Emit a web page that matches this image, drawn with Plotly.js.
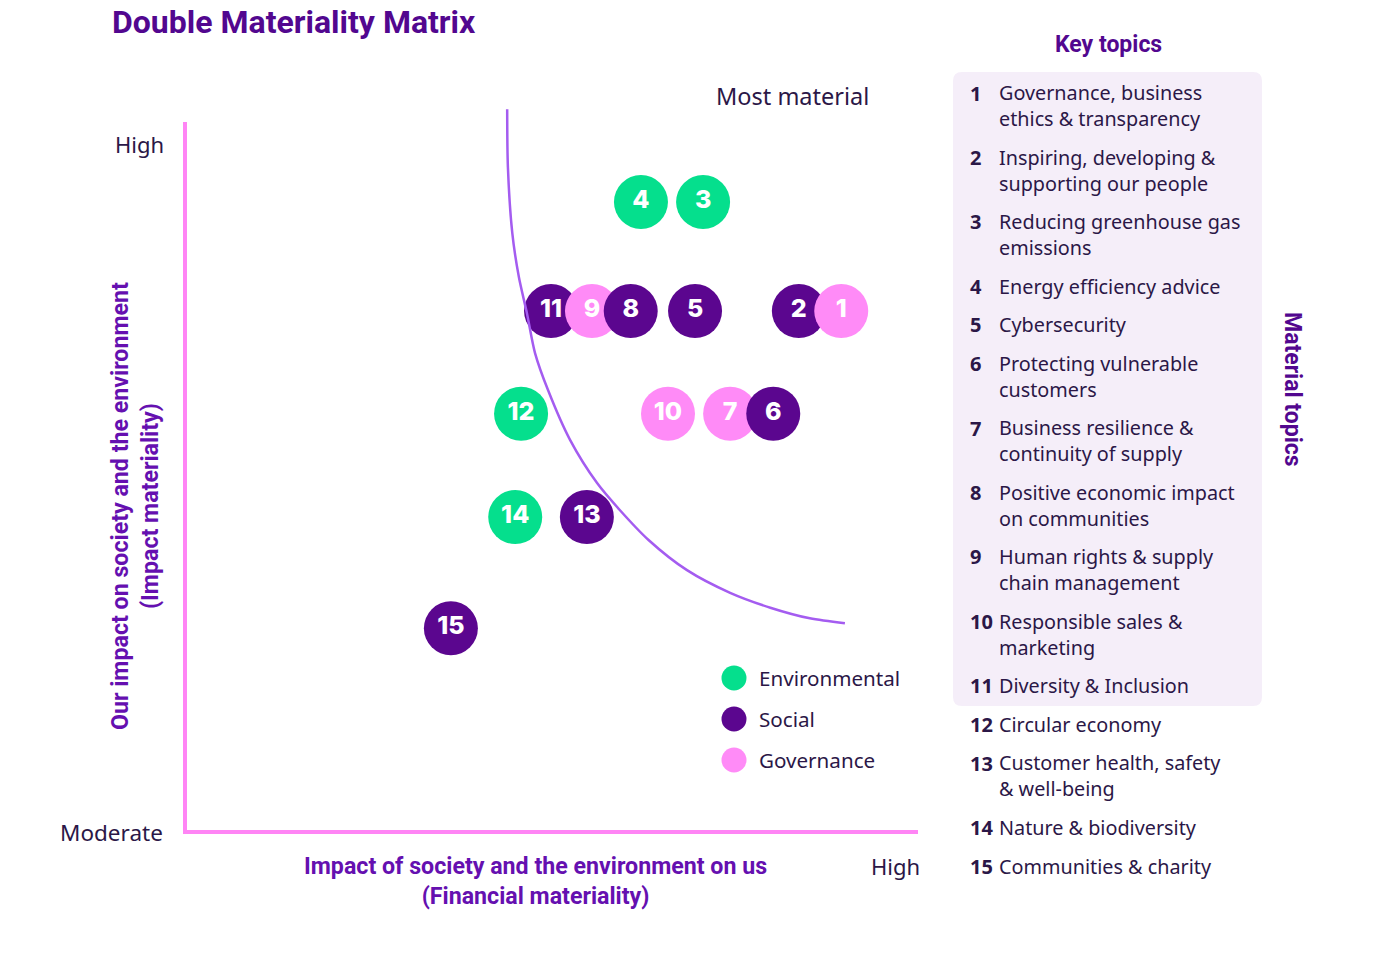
<!DOCTYPE html>
<html>
<head>
<meta charset="utf-8">
<script src="https://cdn.plot.ly/plotly-3.0.1.min.js"></script>
<style>html,body{margin:0;padding:0;background:#fff;}#chart{width:1379px;height:958px;}</style>
</head>
<body>
<div id="chart"></div>
<script>
// ---------- DATA ----------
// bubbles listed in drawing order (later ones sit on top)
const topicIds   = [15, 14, 13, 12, 11, 9, 8, 5, 4, 3, 2, 1, 10, 7, 6];
const financialX = [3.61, 4.49, 5.47, 4.57, 4.98, 5.54, 6.07, 6.95, 6.21, 7.06, 8.37, 8.95, 6.58, 7.43, 8.02];
const impactY    = [2.85, 4.42, 4.42, 5.88, 7.33, 7.33, 7.33, 7.33, 8.87, 8.87, 7.33, 7.33, 5.88, 5.88, 5.88];
const pillar     = ["Social","Environmental","Social","Environmental","Social","Governance","Social","Social",
                    "Environmental","Environmental","Social","Governance","Governance","Governance","Social"];

// threshold curve
const curveX = [4.38, 4.39, 4.45, 4.54, 4.65, 4.76, 4.94, 5.24, 5.61, 5.92, 6.31, 6.84, 7.43, 7.98, 8.52, 9.00];
const curveY = [10.18, 9.36, 8.43, 7.81, 7.30, 6.74, 6.21, 5.51, 4.90, 4.52, 4.10, 3.67, 3.35, 3.14, 2.99, 2.92];

const pillarNames  = ["Environmental", "Social", "Governance"];
const pillarColors = ["#05df8d", "#5b068f", "#ff8bf7"];

const topicNumbers = ["1","2","3","4","5","6","7","8","9","10","11","12","13","14","15"];
const topicLabels = [
  "Governance, business<br>ethics & transparency",
  "Inspiring, developing &<br>supporting our people",
  "Reducing greenhouse gas<br>emissions",
  "Energy efficiency advice",
  "Cybersecurity",
  "Protecting vulnerable<br>customers",
  "Business resilience &<br>continuity of supply",
  "Positive economic impact<br>on communities",
  "Human rights & supply<br>chain management",
  "Responsible sales &<br>marketing",
  "Diversity & Inclusion",
  "Circular economy",
  "Customer health, safety<br>& well-being",
  "Nature & biodiversity",
  "Communities & charity"
];

// ---------- LAYOUT HELPERS ----------
const W = 1379, H = 958;
const PX = x => x / W;
const PY = y => 1 - y / H;
const INK = "#2b1747";
const PURPLE = "#52078f";
const AXISPURPLE = "#6510b0";
const PINK = "#ff85f5";
const BODY = "Noto Sans, Open Sans, sans-serif";
const HEAVY = "Roboto, sans-serif";

// plot-area pixel box
const plotL = 187, plotR = 918, plotT = 122, plotB = 830;
const xMax = 10, yMax = 10;
const pxPerX = (plotR - plotL) / xMax, pxPerY = (plotB - plotT) / yMax;

const colorOf = p => pillarColors[pillarNames.indexOf(p)];

const bubbles = {
  type: "scatter", mode: "markers+text", xaxis: "x", yaxis: "y",
  x: financialX, y: impactY, text: topicIds.map(String),
  marker: {size: 54, color: pillar.map(colorOf), line: {width: 0}, opacity: 1},
  textfont: {family: "Inter, Roboto, sans-serif", size: 25, color: "#ffffff", weight: 800},
  textposition: "middle center", cliponaxis: false, hoverinfo: "skip", showlegend: false
};

const curve = {
  type: "scatter", mode: "lines", xaxis: "x2", yaxis: "y2",
  x: curveX, y: curveY, line: {color: "#a45cf0", width: 2.5, shape: "spline", smoothing: 0.8},
  hoverinfo: "skip", showlegend: false
};

// legend (custom so the dots match the reference size)
const legX = (734 - plotL) / pxPerX;
const legY0 = (plotB - 678) / pxPerY, legStep = 41 / pxPerY;
const legend = {
  type: "scatter", mode: "markers", xaxis: "x2", yaxis: "y2",
  x: pillarNames.map(() => legX), y: pillarNames.map((_, i) => legY0 - i * legStep),
  marker: {size: 25, color: pillarColors},
  hoverinfo: "skip", showlegend: false
};

const annotations = [];
const addText = (text, x, y, opts) => annotations.push(Object.assign({
  text, x: PX(x), y: PY(y), xref: "paper", yref: "paper", showarrow: false,
  xanchor: "left", yanchor: "middle", align: "left", borderpad: 0,
  font: {family: BODY, size: 20.7, color: INK}
}, opts || {}));

// legend labels
pillarNames.forEach((n, i) => addText(n, 758, 678 + i * 41, {font: {family: BODY, size: 20.6, color: INK}}));

// titles and corner labels
addText("Double Materiality Matrix", 111, 22, {font: {family: HEAVY, size: 32, color: PURPLE, weight: 700}});
addText("Key topics", 1108, 45, {xanchor: "center", font: {family: HEAVY, size: 23, color: PURPLE, weight: 700}});
addText("Material topics", 1293, 389, {xanchor: "center", textangle: 90, font: {family: HEAVY, size: 23, color: PURPLE, weight: 700}});
addText("Most material", 792, 96, {xanchor: "center", font: {family: BODY, size: 23.5, color: INK}});
addText("High", 139, 144, {xanchor: "center", font: {family: BODY, size: 22, color: INK}});
addText("Moderate", 112, 832, {xanchor: "center", font: {family: BODY, size: 22.5, color: INK}});
addText("High", 896, 866, {xanchor: "center", font: {family: BODY, size: 22, color: INK}});
addText("Impact of society and the environment on us<br>(Financial materiality)", 535, 880.5,
        {xanchor: "center", align: "center", font: {family: HEAVY, size: 23.2, color: AXISPURPLE, weight: 700}});
addText("Our impact on society and the environment<br>(Impact materiality)", 135, 506,
        {xanchor: "center", align: "center", textangle: -90, font: {family: HEAVY, size: 23.2, color: AXISPURPLE, weight: 700}});

// key topic list (one multi-line text per topic)
const lineH = 25.7, itemGap = 13;
let yCur = 93;
topicLabels.forEach((lab, i) => {
  const n = lab.split("<br>").length;
  addText(topicNumbers[i], 969, yCur, {font: {family: BODY, size: 20, color: INK, weight: 700}});
  addText(lab, 998, yCur + (n - 1) * lineH / 2, {font: {family: BODY, size: 19.8, color: INK}});
  yCur += n * lineH + itemGap;
});

// shaded panel behind topics 1-11 (rounded rectangle)
const pL = PX(953), pR = PX(1262), pT = PY(72), pB = PY(706), rx = 9 / W, ry = 9 / H;
const panelPath = `M ${pL + rx} ${pT} L ${pR - rx} ${pT} Q ${pR} ${pT} ${pR} ${pT - ry} L ${pR} ${pB + ry} Q ${pR} ${pB} ${pR - rx} ${pB} ` +
                  `L ${pL + rx} ${pB} Q ${pL} ${pB} ${pL} ${pB + ry} L ${pL} ${pT - ry} Q ${pL} ${pT} ${pL + rx} ${pT} Z`;

const layout = {
  width: W, height: H, margin: {l: 0, r: 0, t: 0, b: 0},
  paper_bgcolor: "#ffffff", plot_bgcolor: "rgba(0,0,0,0)", showlegend: false,
  xaxis: {domain: [PX(plotL), PX(plotR)], range: [0, xMax], showline: true, linecolor: PINK, linewidth: 4,
          showgrid: false, zeroline: false, showticklabels: false, ticks: "", fixedrange: true},
  yaxis: {domain: [PY(plotB), PY(plotT)], range: [0, yMax], showline: true, linecolor: PINK, linewidth: 4,
          showgrid: false, zeroline: false, showticklabels: false, ticks: "", fixedrange: true},
  // full-page overlay axes on the same data scale (curve + legend)
  xaxis2: {domain: [0, 1], range: [-plotL / pxPerX, (W - plotL) / pxPerX], anchor: "y2", visible: false, fixedrange: true},
  yaxis2: {domain: [0, 1], range: [-(H - plotB) / pxPerY, plotB / pxPerY], anchor: "x2", visible: false, fixedrange: true},
  shapes: [{type: "path", path: panelPath, xref: "paper", yref: "paper", fillcolor: "#f5eef9", line: {width: 0}, layer: "below"}],
  annotations
};

Plotly.newPlot("chart", [bubbles, curve, legend], layout, {displayModeBar: false, staticPlot: true});
</script>
</body>
</html>
